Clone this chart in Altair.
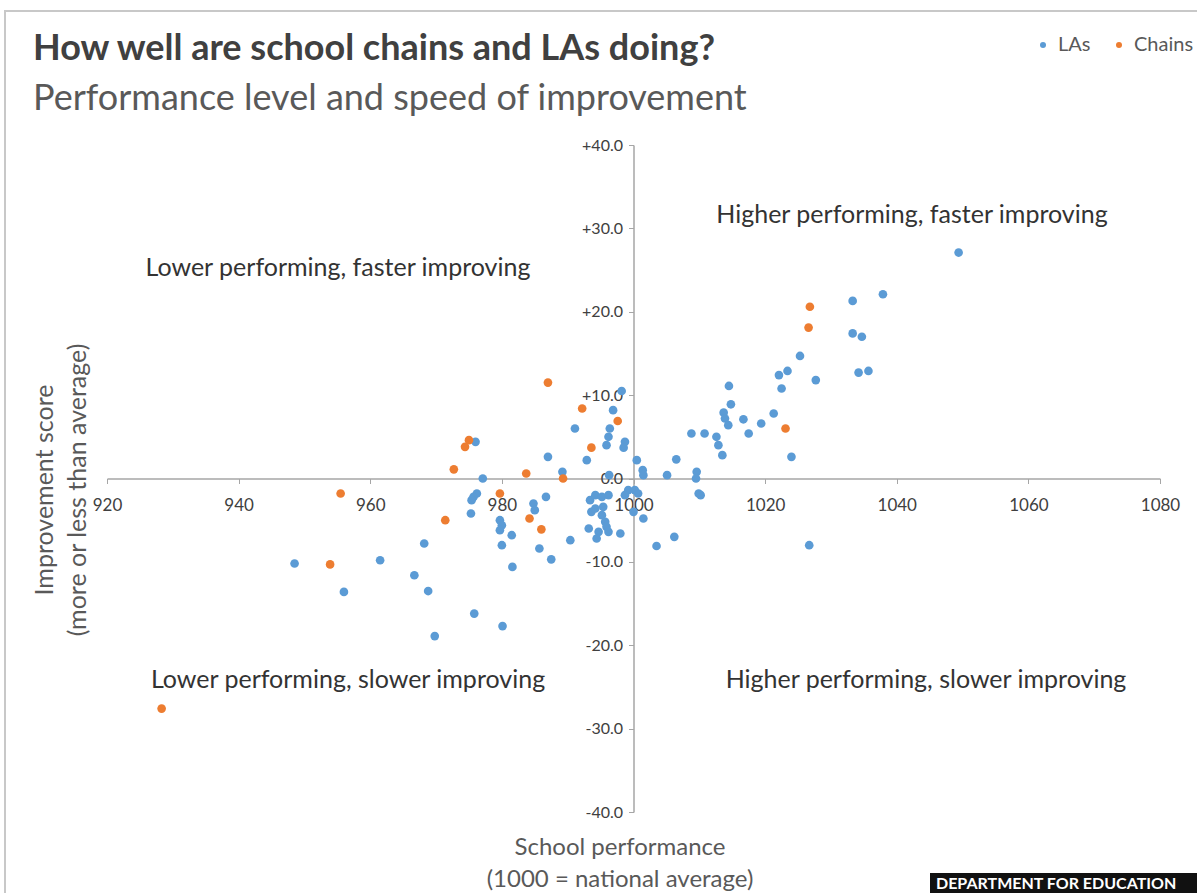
import altair as alt
import pandas as pd

# ---- data ----
la_perf = [1049.4, 1037.9, 1033.3, 1033.3, 1034.7, 1025.3, 1022.1, 1023.4, 1027.7, 1034.2,
           1035.7, 1022.5, 1014.5, 1014.8, 1013.7, 1013.9, 1014.4, 1016.7, 1021.3, 1019.4,
           1017.5, 1008.8, 1010.8, 1012.6, 1012.9, 1013.5, 1024.0, 1006.5, 1000.5, 1001.4,
           1001.5, 1005.1, 1009.6, 1009.5, 1009.9, 1010.2, 1026.7, 1006.2, 1003.5,
           998.2, 996.9, 991.1, 996.4, 996.2, 995.9, 998.7, 998.5, 987.0, 992.9,
           989.2, 977.1, 996.3, 999.2, 1000.2, 998.7, 1000.7, 994.2, 995.2, 996.2,
           993.4, 993.6, 994.2, 995.4, 995.2, 995.7, 995.9, 996.2, 1000.0, 1001.5,
           993.2, 994.7, 994.4, 998.0,
           976.0, 976.2, 975.7, 975.4, 986.7, 984.8, 985.0, 975.3, 979.7, 980.0,
           979.7, 981.5, 980.0, 985.7, 990.4, 987.5, 981.6, 968.2, 966.7, 968.8,
           961.5, 948.5, 956.0, 975.8, 969.8, 980.1]
la_impr = [27.1, 22.1, 21.3, 17.4, 17.0, 14.7, 12.4, 12.9, 11.8, 12.7,
           12.9, 10.8, 11.1, 8.9, 7.9, 7.2, 6.4, 7.1, 7.8, 6.6,
           5.4, 5.4, 5.4, 5.0, 4.0, 2.8, 2.6, 2.3, 2.2, 1.0,
           0.4, 0.4, 0.8, 0.0, -1.8, -2.0, -8.0, -7.0, -8.1,
           10.5, 8.2, 6.0, 6.0, 5.0, 4.0, 4.4, 3.7, 2.6, 2.2,
           0.8, 0.0, 0.4, -1.4, -1.4, -2.0, -1.8, -2.0, -2.2, -2.0,
           -2.6, -4.0, -3.6, -3.4, -4.4, -5.2, -5.8, -6.4, -4.0, -4.8,
           -6.0, -6.4, -7.2, -6.6,
           4.4, -1.8, -2.2, -2.6, -2.2, -3.0, -3.8, -4.2, -5.0, -5.6,
           -6.2, -6.8, -8.0, -8.4, -7.4, -9.7, -10.6, -7.8, -11.6, -13.5,
           -9.8, -10.2, -13.6, -16.2, -18.9, -17.7]

chain_perf = [987.0, 992.2, 997.6, 993.6, 974.4, 975.0, 972.7, 983.7, 989.3, 955.5,
              979.7, 971.4, 984.2, 986.0, 953.9, 928.3, 1026.8, 1026.6, 1023.1]
chain_impr = [11.5, 8.4, 6.9, 3.7, 3.8, 4.6, 1.1, 0.6, 0.0, -1.8,
              -1.8, -5.0, -4.8, -6.1, -10.3, -27.6, 20.6, 18.1, 6.0]

series_names = ["LAs", "Chains"]
x_ticks = [920, 940, 960, 980, 1000, 1020, 1040, 1060, 1080]
y_ticks = [-40, -30, -20, -10, 0, 10, 20, 30, 40]

df = pd.DataFrame({
    "performance": la_perf + chain_perf,
    "improvement": la_impr + chain_impr,
    "series": [series_names[0]] * len(la_perf) + [series_names[1]] * len(chain_perf),
})

# ---- layout ----
W, H = 1053, 667
PAD_L, PAD_T = 107, 145
FONT = "Lato"
AXIS_GREY = "#a6a6a6"
TEXT_GREY = "#595959"
LABEL_GREY = "#404040"

blank = alt.Data(values=[{}])


def label(text, x, y, size, color=TEXT_GREY, weight="normal", align="center",
          baseline="middle", angle=0):
    kw = dict(font=FONT, fontSize=size, color=color, fontWeight=weight,
              align=align, baseline=baseline)
    if angle:
        kw["angle"] = angle
    return alt.Chart(blank).mark_text(**kw).encode(
        x=alt.value(x), y=alt.value(y), text=alt.value(text))


points = alt.Chart(df).mark_circle(size=75, opacity=1).encode(
    x=alt.X("performance:Q",
            scale=alt.Scale(domain=[920, 1080], nice=False, zero=False),
            axis=alt.Axis(values=x_ticks, offset=-H / 2, title=None, grid=False,
                          domainColor=AXIS_GREY, domainWidth=1.5,
                          tickColor=AXIS_GREY, tickSize=5, tickWidth=1,
                          labelFont=FONT, labelFontSize=17, labelColor=LABEL_GREY,
                          labelPadding=14, labelFlush=False, labelOverlap=False,
                          format="d")),
    y=alt.Y("improvement:Q",
            scale=alt.Scale(domain=[-40, 40], nice=False, zero=False),
            axis=alt.Axis(values=y_ticks, offset=-W / 2, title=None, grid=False,
                          domainColor=AXIS_GREY, domainWidth=1.5,
                          tickColor=AXIS_GREY, tickSize=5, tickWidth=1,
                          labelFont=FONT, labelFontSize=16, labelColor=LABEL_GREY,
                          labelPadding=6, labelFlush=False, labelOverlap=False,
                          labelExpr="(datum.value > 0 ? '+' : (datum.value < 0 ? '-' : '')) + format(abs(datum.value), '.1f')")),
    color=alt.Color("series:N",
                    scale=alt.Scale(domain=series_names, range=["#5b9bd5", "#ed7d31"]),
                    legend=alt.Legend(orient="none", legendX=926, legendY=-110,
                                      direction="horizontal", title=None,
                                      symbolType="circle", symbolSize=36,
                                      symbolStrokeWidth=0, symbolOpacity=1,
                                      labelFont=FONT, labelFontSize=20,
                                      labelColor=TEXT_GREY, columnPadding=18,
                                      labelOffset=5)),
)

border = alt.Chart(blank).mark_rect(fill=None, stroke="#c8c8c8", strokeWidth=2).encode(
    x=alt.value(-102), x2=alt.value(1100), y=alt.value(-134), y2=alt.value(760))

logo_box = alt.Chart(blank).mark_rect(color="#111111").encode(
    x=alt.value(823), x2=alt.value(1100), y=alt.value(728), y2=alt.value(752))

layers = [
    border,
    points,
    label("How well are school chains and LAs doing?", -74, -85, 36,
          color=LABEL_GREY, weight="bold", align="left", baseline="alphabetic"),
    label("Performance level and speed of improvement", -74, -35, 36,
          align="left", baseline="alphabetic"),
    label("Higher performing, faster improving", 805, 70, 25, color="#333333"),
    label("Lower performing, faster improving", 231, 123, 25, color="#333333"),
    label("Lower performing, slower improving", 241, 535, 25, color="#333333"),
    label("Higher performing, slower improving", 819, 535, 25, color="#333333"),
    label("Improvement score", -62, 345, 25, angle=270),
    label("(more or less than average)", -29, 345, 25, angle=270),
    label("School performance", 513, 703, 24),
    label("(1000 = national average)", 513, 735, 24),
    logo_box,
    label("DEPARTMENT FOR EDUCATION", 829, 739, 16, color="#ffffff",
          weight="bold", align="left"),
]

chart = alt.layer(*layers).properties(
    width=W, height=H,
    autosize="none",
    padding={"left": PAD_L, "top": PAD_T, "right": 1197 - PAD_L - W, "bottom": 893 - PAD_T - H},
    background="white",
).configure_view(stroke=None)

chart.save("out.html", embed_options={"renderer": "svg", "actions": False})
